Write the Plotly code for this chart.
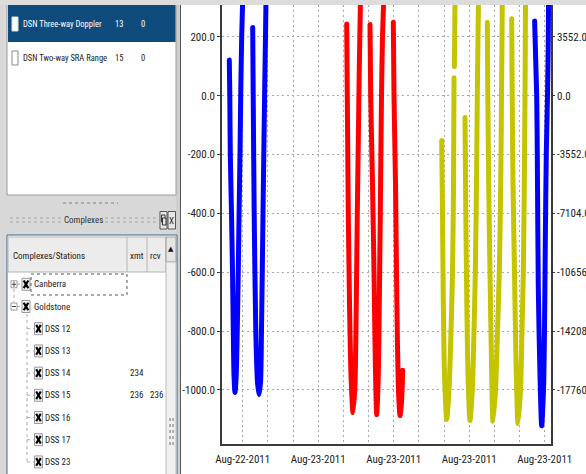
import pandas as pd
import plotly.graph_objects as go

W, H = 586, 474
T0 = pd.Timestamp("2011-08-22 18:00")

# ---------------- data (minutes after Aug-22-2011 18:00, residual values) ----------------
blue_minutes = [-63.9, -61.5, -59.1, -53.4, -48.6, -44.8, -41.5, -36.7, -31.0, -26.0, -21.2, -17.2, -12.9, -9.5, -4.8, 0.0,
                None,
                47.7, 50.1, 54.8, 62.5, 70.6, 77.7, 84.9, 89.6, 96.8, 104.4, 108.7, 111.1,
                None,
                1392.0, 1401.8, 1404.7, 1409.4, 1417.5, 1425.6, 1434.2, 1439.0, 1442.8, 1447.5, 1453.3, 1457.1, 1458.5]
blue_values = [122, 0, -200, -400, -600, -800, -950, -1009, -950, -800, -600, -400, -200, 0, 200, 330,
               None,
               232, 0, -400, -800, -975, -1016, -975, -800, -400, 0, 200, 330,
               None,
               254, 0, -200, -650, -950, -1122, -1000, -800, -500, -200, 0, 200, 330]

red_minutes = [495.9, 498.7, 503.5, 509.2, 516.4, 525.9, 535.4, 541.6, 546.4, 552.2, 556.0, 561.7,
               None,
               607.0, 610.3, 618.9, 626.1, 632.2, 638.9, 646.5, 651.3, 656.1, 661.8, 666.6, 672.3,
               None,
               718.1, 721.4, 728.6, 733.3, 738.1, 743.8, 750.0, 756.2, 761.0, 762.9]
red_values = [244, 0, -400, -700, -950, -1077, -980, -700, -400, -100, 100, 330,
              None,
              242, 0, -300, -600, -900, -1084, -950, -700, -400, 0, 200, 330,
              None,
              250, 0, -300, -600, -850, -1020, -1087, -1050, -980, -933]

yellow_minutes = [948.8, 952.7, 956.5, 962.2, 972.7, 983.7, 993.3, 1000.4, 1005.2, 1007.6, None, 1009.0, 1010.9, 1012.3,
                  None,
                  1059.9, 1063.8, 1068.5, 1074.2, 1083.8, 1094.8, 1102.9, 1109.1, 1114.8, 1118.6, 1122.0, 1124.4,
                  None,
                  1166.3, 1168.7, 1173.0, 1179.1, 1184.9, 1193.4, 1205.4, 1214.9, 1223.5, 1230.2, 1234.0, 1236.4, 1237.8,
                  None,
                  1282.6, 1285.0, 1288.8, 1296.0, 1303.1, 1312.7, 1324.6, 1331.7, 1338.0, 1342.7, 1346.1, 1347.5, 1348.5]
yellow_values = [-152, -400, -700, -950, -1100, -1000, -800, -600, -300, 61, None, 99, 200, 330,
                 None,
                 -74, -400, -700, -950, -1104, -1000, -800, -600, -300, 0, 200, 330,
                 None,
                 250, 0, -300, -600, -850, -1107, -1000, -800, -600, -300, 0, 200, 330,
                 None,
                 262, 0, -300, -600, -900, -1114, -1000, -800, -600, -300, 0, 200, 330]

y_tick_vals = [-1000, -800, -600, -400, -200, 0, 200]
y_tick_text = ["-1000.0", "-800.0", "-600.0", "-400.0", "-200.0", "0.0", "200.0"]
y2_tick_vals = [-17760, -14208, -10656, -7104, -3552, 0, 3552]
y2_tick_text = ["-17760.0", "-14208.0", "-10656.0", "-7104.0", "-3552.0", "0.0", "3552.0"]
x_tick_vals = ["2011-08-22 18:00", "2011-08-23 00:00", "2011-08-23 06:00",
               "2011-08-23 12:00", "2011-08-23 18:00"]
x_tick_text = ["Aug-22-2011", "Aug-23-2011", "Aug-23-2011", "Aug-23-2011", "Aug-23-2011"]

list_items = ["DSN Three-way Doppler", "DSN Two-way SRA Range"]
list_col1 = ["13", "15"]
list_col2 = ["0", "0"]

tree_names = ["Canberra", "Goldstone", "DSS 12", "DSS 13", "DSS 14", "DSS 15", "DSS 16", "DSS 17", "DSS 23"]
tree_depth = [0, 0, 1, 1, 1, 1, 1, 1, 1]
tree_expanded = [False, True, None, None, None, None, None, None, None]
tree_xmt = ["", "", "", "", "234", "236", "", "", ""]
tree_rcv = ["", "", "", "", "", "236", "", "", ""]


def to_times(mins):
    return [None if m is None else (T0 + pd.Timedelta(minutes=m)).strftime("%Y-%m-%d %H:%M:%S") for m in mins]


FONT = "Roboto Condensed, DejaVu Sans Condensed, sans-serif"
GRID = "#a8a8a8"
GRIDDASH = "2px,3px"
AX = "#3a3a3a"
TICK_SIZE = 11

fig = go.Figure()
for mins, vals, col in [(blue_minutes, blue_values, "#0000ff"),
                        (red_minutes, red_values, "#ff0000"),
                        (yellow_minutes, yellow_values, "#c4c400")]:
    fig.add_trace(go.Scatter(x=to_times(mins), y=vals, mode="lines",
                             line=dict(color=col, width=5, shape="spline", smoothing=0.7),
                             connectgaps=False, hoverinfo="skip"))
fig.add_trace(go.Scatter(x=[None], y=[None], yaxis="y2", mode="lines", hoverinfo="skip"))

# ---------------- GUI panel drawing ----------------
shapes, annots = [], []


def R(x0, y0, x1, y1, fill=None, line=None, lw=1, dash=None, layer="above"):
    shapes.append(dict(type="rect", xref="paper", yref="paper",
                       x0=x0 / W, x1=x1 / W, y0=1 - y1 / H, y1=1 - y0 / H,
                       fillcolor=fill or "rgba(0,0,0,0)",
                       line=dict(color=line or "rgba(0,0,0,0)", width=lw if line else 0, dash=dash),
                       layer=layer))


def L(x0, y0, x1, y1, color, lw=1, dash=None):
    shapes.append(dict(type="line", xref="paper", yref="paper",
                       x0=x0 / W, x1=x1 / W, y0=1 - y0 / H, y1=1 - y1 / H,
                       line=dict(color=color, width=lw, dash=dash), layer="above"))


def T(x, y, s, size=9, color="#1a1a1a", anchor="left", family=FONT):
    annots.append(dict(xref="paper", yref="paper", x=x / W, y=1 - y / H, text=s,
                       showarrow=False, xanchor=anchor, yanchor="middle",
                       borderpad=0, font=dict(family=family, size=size, color=color)))


def checkbox_x(cx, cy):
    R(cx - 4, cy - 6, cx + 4, cy + 6, fill="#f2f2f2", line="#9a9a9a")
    L(cx - 2.3, cy - 3.8, cx + 2.3, cy + 3.8, "#000000", 2.2)
    L(cx + 2.3, cy - 3.8, cx - 2.3, cy + 3.8, "#000000", 2.2)


# left panel background
R(0, 0, 180, H, fill="#d8d8d8", layer="below")
R(176, 5, 180, H, fill="#cfcfcf")
L(180.5, 5, 180.5, H, "#555555", 1)

# top list
R(7, 4, 176, 195, fill="#ffffff", line="#9a9a9a")
R(8, 5, 175.5, 42, fill="#0f4b7c")
row_y = [24, 58]
for i, name in enumerate(list_items):
    sel = i == 0
    R(12, row_y[i] - 7, 18, row_y[i] + 7, fill="#ffffff", line="#dddddd" if sel else "#8a8a8a")
    c = "#ffffff" if sel else "#1a1a1a"
    T(22, row_y[i], name, size=8.5, color=c)
    T(113.5, row_y[i], list_col1[i], size=8.5, color=c)
    T(140, row_y[i], list_col2[i], size=8.5, color=c)

# dock title "Complexes"
L(63, 203, 118, 203, "#9a9a9a", 1.5, "dot")
for yy in (218, 222):
    L(10, yy, 62, yy, "#b5b5b5", 1.5, "dot")
    L(105, yy, 158, yy, "#b5b5b5", 1.5, "dot")
T(83, 220, "Complexes", color="#333333", anchor="center")
R(160, 211.5, 167, 229, fill="#e6e6e6", line="#555555")
R(161.5, 215, 165, 222, line="#333333")
R(162.5, 218, 166, 225, fill="#e6e6e6", line="#333333")
R(168, 211.5, 175.5, 229, fill="#e6e6e6", line="#555555")
T(171.8, 220.5, "X", size=9, color="#222222", anchor="center")

# tree widget
R(7, 235, 177, H + 2, fill="#ffffff", line="#3d6b8e")
R(8, 237, 166, 272, fill="#ececec", line="#b4b4b4")
L(127, 237, 127, 272, "#b4b4b4", 1)
L(147, 237, 147, 272, "#b4b4b4", 1)
T(11.5, 256, "Complexes/Stations")
T(129, 256, "xmt")
T(149, 256, "rcv")
R(166, 237, 176, 262, fill="#e4e4e4", line="#9a9a9a")
T(171, 249, "▲", size=7, color="#111111", anchor="center", family="DejaVu Sans")
R(166, 262, 176, H + 2, fill="#efefef", line="#bdbdbd")
L(170, 418, 170, 446, "#999999", 1.5, "dot")
L(173, 418, 173, 446, "#999999", 1.5, "dot")

row0, step = 284.3, 22.2
rows = [row0 + i * step for i in range(len(tree_names))]
L(14, 289, 14, 302, "#aaaaaa", 1, "dot")
L(27, 314, 27, rows[-1], "#aaaaaa", 1, "dot")
for i, name in enumerate(tree_names):
    y = rows[i]
    if tree_depth[i] == 0:
        R(11, y - 3.5, 17, y + 3.5, fill="#ffffff", line="#9a9a9a")
        L(12, y, 16, y, "#444444", 1)
        if not tree_expanded[i]:
            L(14, y - 2.5, 14, y + 2.5, "#444444", 1)
        L(17, y, 21, y, "#aaaaaa", 1, "dot")
        checkbox_x(26, y)
        T(33, y, name)
    else:
        L(27, y, 34, y, "#aaaaaa", 1, "dot")
        checkbox_x(38.5, y)
        T(44, y, name)
    if tree_xmt[i]:
        T(129, y, tree_xmt[i])
    if tree_rcv[i]:
        T(149, y, tree_rcv[i])
R(31, 274, 127, 295, line="#555555", dash="dot")

# top grey strip
R(0, 0, W, 5, fill="#dcdcdc")

fig.update_layout(
    width=W, height=H, margin=dict(l=0, r=0, t=0, b=0),
    paper_bgcolor="#ffffff", plot_bgcolor="#ffffff", showlegend=False,
    font=dict(family=FONT, size=TICK_SIZE, color="#222222"),
    shapes=shapes, annotations=annots,
    xaxis=dict(type="date", domain=[222 / W, 551 / W],
               range=["2011-08-22 16:21:18", "2011-08-23 18:30:00"],
               tickmode="array", tickvals=x_tick_vals, ticktext=x_tick_text,
               ticks="outside", ticklen=4, tickcolor="rgba(0,0,0,0)",
               showgrid=True, gridcolor=GRID, griddash=GRIDDASH, gridwidth=1,
               minor=dict(dtick=7200000, tick0="2011-08-22 18:00", showgrid=True,
                          gridcolor=GRID, griddash=GRIDDASH, gridwidth=1),
               showline=True, linecolor=AX, linewidth=1.5, zeroline=False,
               automargin=False, tickfont=dict(size=TICK_SIZE)),
    yaxis=dict(domain=[1 - 444 / H, 1 - 5 / H], range=[-1183.7, 308.7],
               tickmode="array", tickvals=y_tick_vals, ticktext=y_tick_text,
               ticks="outside", ticklen=3, tickcolor=AX,
               showline=True, linecolor=AX, linewidth=1.5,
               showgrid=True, gridcolor=GRID, griddash=GRIDDASH, zeroline=False,
               automargin=False, tickfont=dict(size=TICK_SIZE)),
    yaxis2=dict(overlaying="y", side="right", range=[-21022.5, 5482.5],
                tickmode="array", tickvals=y2_tick_vals, ticktext=y2_tick_text,
                ticks="outside", ticklen=2, tickcolor=AX,
                showline=True, linecolor=AX, linewidth=1.5,
                showgrid=False, zeroline=False, automargin=False,
                tickfont=dict(size=TICK_SIZE)),
)

post = ("document.body.style.margin='0px';"
        "document.querySelectorAll('.scatterlayer path.js-line').forEach(function(p){"
        "p.style.strokeLinecap='round';p.style.strokeLinejoin='round';});")
fig.write_html("out.html", config={"displayModeBar": False}, post_script=post)
